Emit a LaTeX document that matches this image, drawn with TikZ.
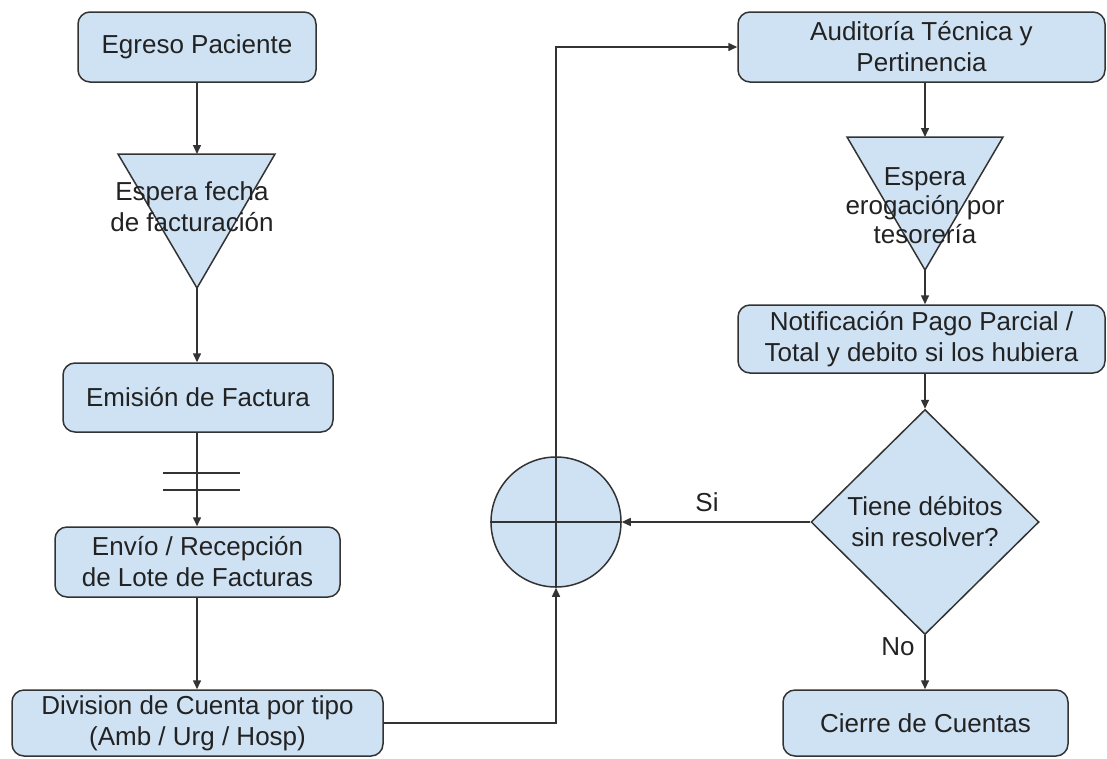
\documentclass[tikz,border=0pt]{standalone}
\usepackage{fontspec}
\setmainfont{Liberation Sans}
\usetikzlibrary{arrows.meta,shapes.geometric,calc}
\definecolor{boxfill}{HTML}{CFE2F3}
\definecolor{edge}{HTML}{333333}
\definecolor{ink}{HTML}{222222}
\begin{document}
\begin{tikzpicture}[x=1pt,y=-1pt,
  every node/.style={text=ink, font=\fontsize{26}{31}\selectfont},
  proc/.style={draw=edge, fill=boxfill, line width=1.5pt, rounded corners=12pt,
               align=center, inner sep=0pt},
  plain/.style={draw=edge, line width=1.5pt},
  link/.style={plain, -{Triangle[length=9pt,width=8pt]}},
  wait/.style={plain, fill=boxfill, line join=miter}]
\useasboundingbox (0,0) rectangle (1107,758);

% ---------- left column ----------
\node[proc, minimum width=238pt, minimum height=70pt] (egr) at (197,47) {Egreso Paciente};

\coordinate (t1a) at (118,154);
\coordinate (t1b) at (275,154);
\coordinate (t1c) at (197,288);
\coordinate (t1top) at (197,154);
\draw[wait] (t1a) -- (t1b) -- (t1c) -- cycle;
\node[align=center] (t1txt) at (192,207) {Espera fecha\\de facturación};

\node[proc, minimum width=270pt, minimum height=69pt] (emi) at (198,397.5) {Emisión de Factura};
\node[proc, minimum width=285pt, minimum height=70pt] (env) at (197.5,562) {Envío / Recepción\\de Lote de Facturas};
\node[proc, minimum width=371pt, minimum height=66pt] (div) at (197.5,723) {Division de Cuenta por tipo\\(Amb / Urg / Hosp)};

\draw[link] (egr.south -| t1top) -- (t1top);
\draw[link] (t1c) -- (t1c |- emi.north);
\draw[link] (t1c |- emi.south) -- (t1c |- env.north);
\draw[plain] (163,473) -- (240,473);
\draw[plain] (163,490) -- (240,490);
\draw[link] (t1c |- env.south) -- (t1c |- div.north);

% ---------- merge ----------
\node[circle, draw=edge, fill=boxfill, line width=1.5pt, minimum size=130pt, inner sep=0pt] (mrg) at (556,522) {};
\draw[plain] (mrg.north) -- (mrg.south);
\draw[plain] (mrg.west) -- (mrg.east);

% ---------- right column ----------
\node[proc, minimum width=367pt, minimum height=70pt] (aud) at (921.5,47) {Auditoría Técnica y\\Pertinencia};

\coordinate (t2a) at (847,137);
\coordinate (t2b) at (1003,137);
\coordinate (t2c) at (925,270);
\coordinate (t2top) at (925,137);
\draw[wait] (t2a) -- (t2b) -- (t2c) -- cycle;
\node[align=center, font=\fontsize{26}{29}\selectfont] (t2txt) at (925,206) {Espera\\erogación por\\tesorería};

\node[proc, minimum width=367pt, minimum height=68pt] (ntf) at (921.5,339) {Notificación Pago Parcial /\\Total y debito si los hubiera};
\node[diamond, draw=edge, fill=boxfill, line width=1.5pt, minimum width=228pt, minimum height=225pt,
      inner sep=0pt, align=center] (dec) at (925,522) {Tiene débitos\\sin resolver?};
\node[proc, minimum width=285pt, minimum height=66pt] (cie) at (925.5,723) {Cierre de Cuentas};

\draw[link] (t2top |- aud.south) -- (t2top);
\draw[link] (t2c) -- (t2c |- ntf.north);
\draw[link] (dec.north |- ntf.south) -- (dec.north);
\draw[link] (dec.south) -- (dec.south |- cie.north);
\node (no) at (898,647) {No};

% ---------- connectors through the merge ----------
\draw[link] (div.east) -| (mrg.south);
\draw[link] (mrg.north) |- (aud.west);
\draw[link] (dec.west) -- (mrg.east);
\node (si) at (707,502) {Si};
\end{tikzpicture}
\end{document}
